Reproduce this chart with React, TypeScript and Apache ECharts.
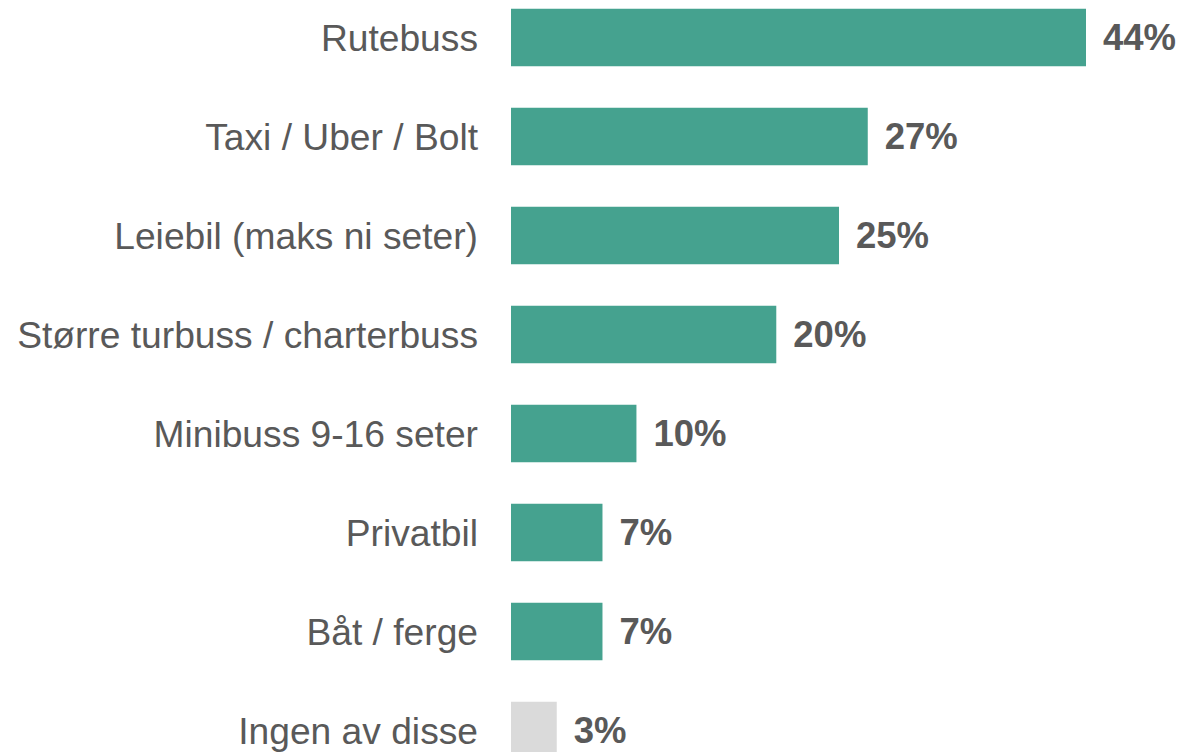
import React, { useEffect, useRef } from "react";
import * as echarts from "echarts";

const categories = [
  "Rutebuss",
  "Taxi / Uber / Bolt",
  "Leiebil (maks ni seter)",
  "Større turbuss / charterbuss",
  "Minibuss 9-16 seter",
  "Privatbil",
  "Båt / ferge",
  "Ingen av disse",
];
const values = [44, 27.3, 25.1, 20.3, 9.6, 7.0, 7.0, 3.5];
const labels = ["44%", "27%", "25%", "20%", "10%", "7%", "7%", "3%"];
const barColors = ["#45A28F", "#45A28F", "#45A28F", "#45A28F", "#45A28F", "#45A28F", "#45A28F", "#DADADA"];

export default function App() {
  const ref = useRef<HTMLDivElement>(null);
  useEffect(() => {
    if (!ref.current) return;
    const chart = echarts.init(ref.current, undefined, { renderer: "svg" });
    chart.setOption({
      animation: false,
      grid: { left: 511, top: 0, width: 575, height: 792 },
      xAxis: {
        type: "value",
        min: 0,
        max: 44,
        show: false,
      },
      yAxis: {
        type: "category",
        inverse: true,
        data: categories,
        axisLine: { show: false },
        axisTick: { show: false },
        axisLabel: {
          margin: 33,
          fontSize: 37.2,
          color: "#595959",
          fontFamily: "Liberation Sans, Arial, sans-serif",
        },
      },
      series: [
        {
          type: "bar",
          barCategoryGap: "42%",
          data: values.map((v, i) => ({
            value: v,
            itemStyle: { color: barColors[i] },
          })),
          label: {
            show: true,
            position: "right",
            distance: 17,
            formatter: (p: any) => labels[p.dataIndex],
            fontSize: 36.5,
            fontWeight: "bold",
            color: "#595959",
            fontFamily: "Liberation Sans, Arial, sans-serif",
          },
        },
      ],
    });
    return () => chart.dispose();
  }, []);
  return (
    <div
      ref={ref}
      style={{ position: "absolute", left: 0, top: -12, width: 1184, height: 800 }}
    />
  );
}
